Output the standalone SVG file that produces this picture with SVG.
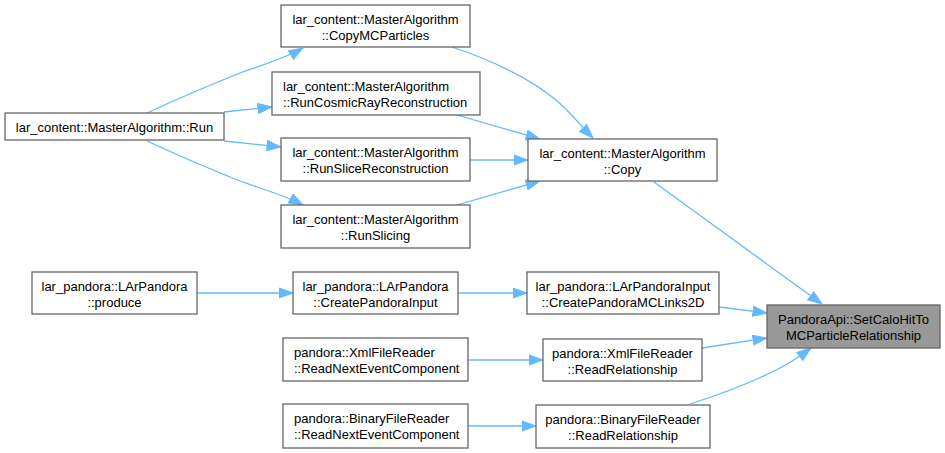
<svg xmlns="http://www.w3.org/2000/svg" width="945" height="453" viewBox="0 0 945 453">
<style>
.node rect{fill:#ffffff;stroke:#666666;stroke-width:1.3}
.node.hl rect{fill:#999999}
.node text{font-family:"Liberation Sans",Arial,Helvetica,sans-serif;font-size:13px;fill:#000000}
.c{text-anchor:middle}
.l{text-anchor:start}
#edges path{fill:none;stroke:#63b8ff;stroke-width:1.3;marker-end:url(#arr)}
</style>
<defs>
<marker id="arr" markerUnits="userSpaceOnUse" viewBox="0 -6 15 12" refX="14.5" refY="0" markerWidth="15" markerHeight="12" orient="auto">
<path d="M0.5,-5 L14.5,0 L0.5,5 Z" fill="#63b8ff" stroke="#63b8ff" stroke-width="1"/>
</marker>
</defs>
<rect width="945" height="453" fill="#ffffff"/>
<g id="edges">
<path d="M147,113 C175,100 210,85 240,73 C262,65 285,58.5 303,48"/>
<path d="M224,112 L272,107"/>
<path d="M224,141 L281,147"/>
<path d="M147,141 C175,154 210,169 240,181 C262,189 285,195.5 303,205"/>
<path d="M452,47 C488,59 528,77 556,100 C568,110 582,127 593,138"/>
<path d="M457,115 L540,139"/>
<path d="M470,160 L528,160"/>
<path d="M457,205 L540,181"/>
<path d="M654,182 L822,304"/>
<path d="M719,307 L767,313"/>
<path d="M702,348 L767,338"/>
<path d="M690,404 C715,396 748,384 772,372 C785,366 799,357 811,348"/>
<path d="M197,293 L293,293"/>
<path d="M458,293 L527,293"/>
<path d="M468,360 L543,360"/>
<path d="M468,426 L536,426"/>
</g>
<g id="node_run" class="node"><rect x="5" y="113" width="219" height="27"/><text class="c" x="114.5" y="132">lar_content::MasterAlgorithm::Run</text></g>
<g id="node_copymcparticles" class="node"><rect x="281" y="5" width="189" height="42"/><text class="c" x="375.5" y="24">lar_content::MasterAlgorithm</text><text class="c" x="375.5" y="40">::CopyMCParticles</text></g>
<g id="node_runcosmic" class="node"><rect x="272" y="72" width="208" height="43"/><text class="l" x="283" y="91">lar_content::MasterAlgorithm</text><text class="l" x="283" y="107">::RunCosmicRayReconstruction</text></g>
<g id="node_runslicereco" class="node"><rect x="281" y="138" width="189" height="43"/><text class="c" x="375.5" y="157">lar_content::MasterAlgorithm</text><text class="c" x="375.5" y="173">::RunSliceReconstruction</text></g>
<g id="node_runslicing" class="node"><rect x="281" y="205" width="189" height="43"/><text class="c" x="375.5" y="224">lar_content::MasterAlgorithm</text><text class="c" x="375.5" y="240">::RunSlicing</text></g>
<g id="node_copy" class="node"><rect x="528" y="139" width="189" height="42"/><text class="c" x="622.5" y="158">lar_content::MasterAlgorithm</text><text class="c" x="622.5" y="174">::Copy</text></g>
<g id="node_produce" class="node"><rect x="32" y="272" width="165" height="42"/><text class="c" x="114.5" y="291">lar_pandora::LArPandora</text><text class="c" x="114.5" y="307">::produce</text></g>
<g id="node_createpandorainput" class="node"><rect x="293" y="272" width="165" height="42"/><text class="c" x="375.5" y="291">lar_pandora::LArPandora</text><text class="c" x="375.5" y="307">::CreatePandoraInput</text></g>
<g id="node_mclinks2d" class="node"><rect x="527" y="272" width="192" height="42"/><text class="c" x="623" y="291">lar_pandora::LArPandoraInput</text><text class="c" x="623" y="307">::CreatePandoraMCLinks2D</text></g>
<g id="node_setcalohit" class="node hl"><rect x="767" y="305" width="173" height="43"/><text class="c" x="853.5" y="324">PandoraApi::SetCaloHitTo</text><text class="c" x="853.5" y="340">MCParticleRelationship</text></g>
<g id="node_xmlnext" class="node"><rect x="283" y="338" width="185" height="43"/><text class="l" x="294" y="357">pandora::XmlFileReader</text><text class="l" x="294" y="373">::ReadNextEventComponent</text></g>
<g id="node_xmlrel" class="node"><rect x="543" y="339" width="159" height="42"/><text class="c" x="622.5" y="358">pandora::XmlFileReader</text><text class="c" x="622.5" y="374">::ReadRelationship</text></g>
<g id="node_binnext" class="node"><rect x="283" y="404" width="185" height="44"/><text class="l" x="294" y="423">pandora::BinaryFileReader</text><text class="l" x="294" y="439">::ReadNextEventComponent</text></g>
<g id="node_binrel" class="node"><rect x="536" y="405" width="174" height="43"/><text class="c" x="623" y="424">pandora::BinaryFileReader</text><text class="c" x="623" y="440">::ReadRelationship</text></g>
</svg>
